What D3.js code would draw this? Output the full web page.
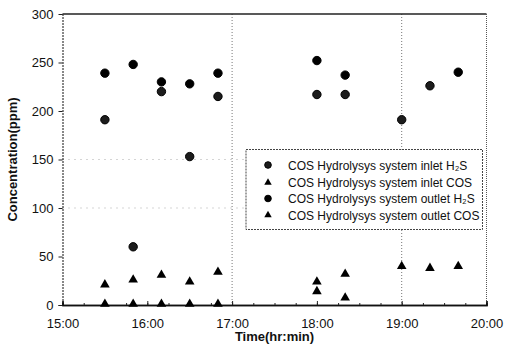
<!DOCTYPE html>
<html>
<head>
<meta charset="utf-8">
<script src="https://cdn.jsdelivr.net/npm/d3@7"></script>
<style>
	body { margin: 0; background: #fff; }
	text { font-family: Arial, "Liberation Sans", sans-serif; fill: #111; }
</style>
</head>
<body>
<script>
// time values in minutes after 15:00
let inletH2sT =   [30, 50, 70, 90, 110, 180, 200, 240, 260]
let inletH2sV =   [191, 60, 220, 153, 215, 217, 217, 191, 226]
let outletH2sT =  [30, 50, 70, 90, 110, 180, 200, 280]
let outletH2sV =  [239, 248, 230, 228, 239, 252, 237, 240]
let inletCosT =   [30, 50, 70, 90, 110, 180, 200, 240, 260, 280]
let inletCosV =   [21, 26, 31, 24, 34, 24, 32, 40, 38, 40]
let outletCosT =  [30, 50, 70, 90, 110, 180, 200]
let outletCosV =  [1, 1, 1, 1, 1, 14, 7.5]

let xTicks =      [0, 60, 120, 180, 240, 300]
let xTickLabels = ['15:00', '16:00', '17:00', '18:00', '19:00', '20:00']
let yTicks =      [0, 50, 100, 150, 200, 250, 300]
let xGrid =       [120, 240]
let yGrid =       [100, 150]

let legendNames = [
	'COS Hydrolysys system inlet H\u2082S',
	'COS Hydrolysys system inlet COS',
	'COS Hydrolysys system outlet H\u2082S',
	'COS Hydrolysys system outlet COS'
]

let W = 505, H = 355
let x0 = 62.5, x1 = 486.5, y0 = 14, y1 = 305

let svg = d3.select('body').append('svg')
	.attr('width', W).attr('height', H)

let xs = d3.scaleLinear().domain([0, 300]).range([x0, x1])
let ys = d3.scaleLinear().domain([0, 300]).range([y1, y0])

// grid
svg.selectAll('.gx').data(xGrid).enter().append('line')
	.attr('x1', d => xs(d)).attr('x2', d => xs(d))
	.attr('y1', y0).attr('y2', y1)
	.style('stroke', '#777').attr('stroke-width', 1).attr('stroke-dasharray', '1,2')
svg.selectAll('.gy').data(yGrid).enter().append('line')
	.attr('x1', x0).attr('x2', x1)
	.attr('y1', d => ys(d)).attr('y2', d => ys(d))
	.style('stroke', '#aaa').attr('stroke-width', 1).attr('stroke-dasharray', '1,5')

// frame
svg.append('line').attr('x1', x0).attr('x2', x1).attr('y1', y0).attr('y2', y0)
	.style('stroke', '#222').attr('stroke-width', 1.5)
svg.append('line').attr('x1', x1).attr('x2', x1).attr('y1', y0).attr('y2', y1)
	.style('stroke', '#555').attr('stroke-width', 1).attr('stroke-dasharray', '1,1')

// axes
let xAxis = svg.append('g').attr('transform', `translate(0,${y1})`)
	.call(d3.axisBottom(xs).tickValues(xTicks).tickFormat((d, i) => xTickLabels[i]).tickSize(-4).tickPadding(14))
let xMinor = svg.append('g').attr('transform', `translate(0,${y1})`)
	.call(d3.axisBottom(xs).tickValues(d3.range(15, 300, 15)).tickFormat('').tickSize(-2))
let yAxis = svg.append('g').attr('transform', `translate(${x0},0)`)
	.call(d3.axisLeft(ys).tickValues(yTicks).tickSize(4).tickPadding(5))

for (let g of [xAxis, xMinor, yAxis]) {
	g.select('.domain').style('stroke', '#111').attr('stroke-width', 1.5)
	g.selectAll('.tick line').style('stroke', '#222')
	g.selectAll('text').style('font-size', '13px').style('fill', '#111')
}
yAxis.select('.domain').attr('stroke-width', 1).attr('stroke-dasharray', '2,1')

// titles
svg.append('text').attr('x', (x0 + x1) / 2).attr('y', 341)
	.attr('text-anchor', 'middle').style('font-size', '13px').style('font-weight', 'bold')
	.text('Time(hr:min)')
svg.append('text').attr('transform', `translate(17,${(y0 + y1) / 2}) rotate(-90)`)
	.attr('text-anchor', 'middle').style('font-size', '13px').style('font-weight', 'bold')
	.text('Concentration(ppm)')

let tri = d3.symbol().type(d3.symbolTriangle).size(40)

function circles(ts, vs, fill) {
	svg.append('g').selectAll('circle').data(ts).enter().append('circle')
		.attr('cx', d => xs(d)).attr('cy', (d, i) => ys(vs[i]))
		.attr('r', 4.2).style('fill', fill).style('stroke', '#000').attr('stroke-width', 1)
}
function triangles(ts, vs) {
	svg.append('g').selectAll('path').data(ts).enter().append('path')
		.attr('d', tri)
		.attr('transform', (d, i) => `translate(${xs(d)},${ys(vs[i])})`)
		.style('fill', '#000')
}

circles(inletH2sT, inletH2sV, '#1c1c1c')
circles(outletH2sT, outletH2sV, '#000')
triangles(inletCosT, inletCosV)
triangles(outletCosT, outletCosV)

// legend
let lg = svg.append('g')
lg.append('rect').attr('x', 246).attr('y', 149.5).attr('width', 236.5).attr('height', 80)
	.style('fill', '#fff').style('stroke', '#444').attr('stroke-width', 1).attr('stroke-dasharray', '2,1')
let rowsY = [165, 182.5, 198.5, 215]
legendNames.forEach(function(name, i) {
	if (i % 2 == 0) {
		lg.append('circle').attr('cx', 268).attr('cy', rowsY[i]).attr('r', 3.3)
			.style('fill', i == 0 ? '#1c1c1c' : '#000').style('stroke', '#000')
	}
	else {
		lg.append('path').attr('d', d3.symbol().type(d3.symbolTriangle).size(24))
			.attr('transform', `translate(268,${rowsY[i]})`).style('fill', '#000')
	}
	lg.append('text').attr('x', 288).attr('y', rowsY[i] + 4.5)
		.style('font-size', '12px').text(name)
})
</script>
</body>
</html>
